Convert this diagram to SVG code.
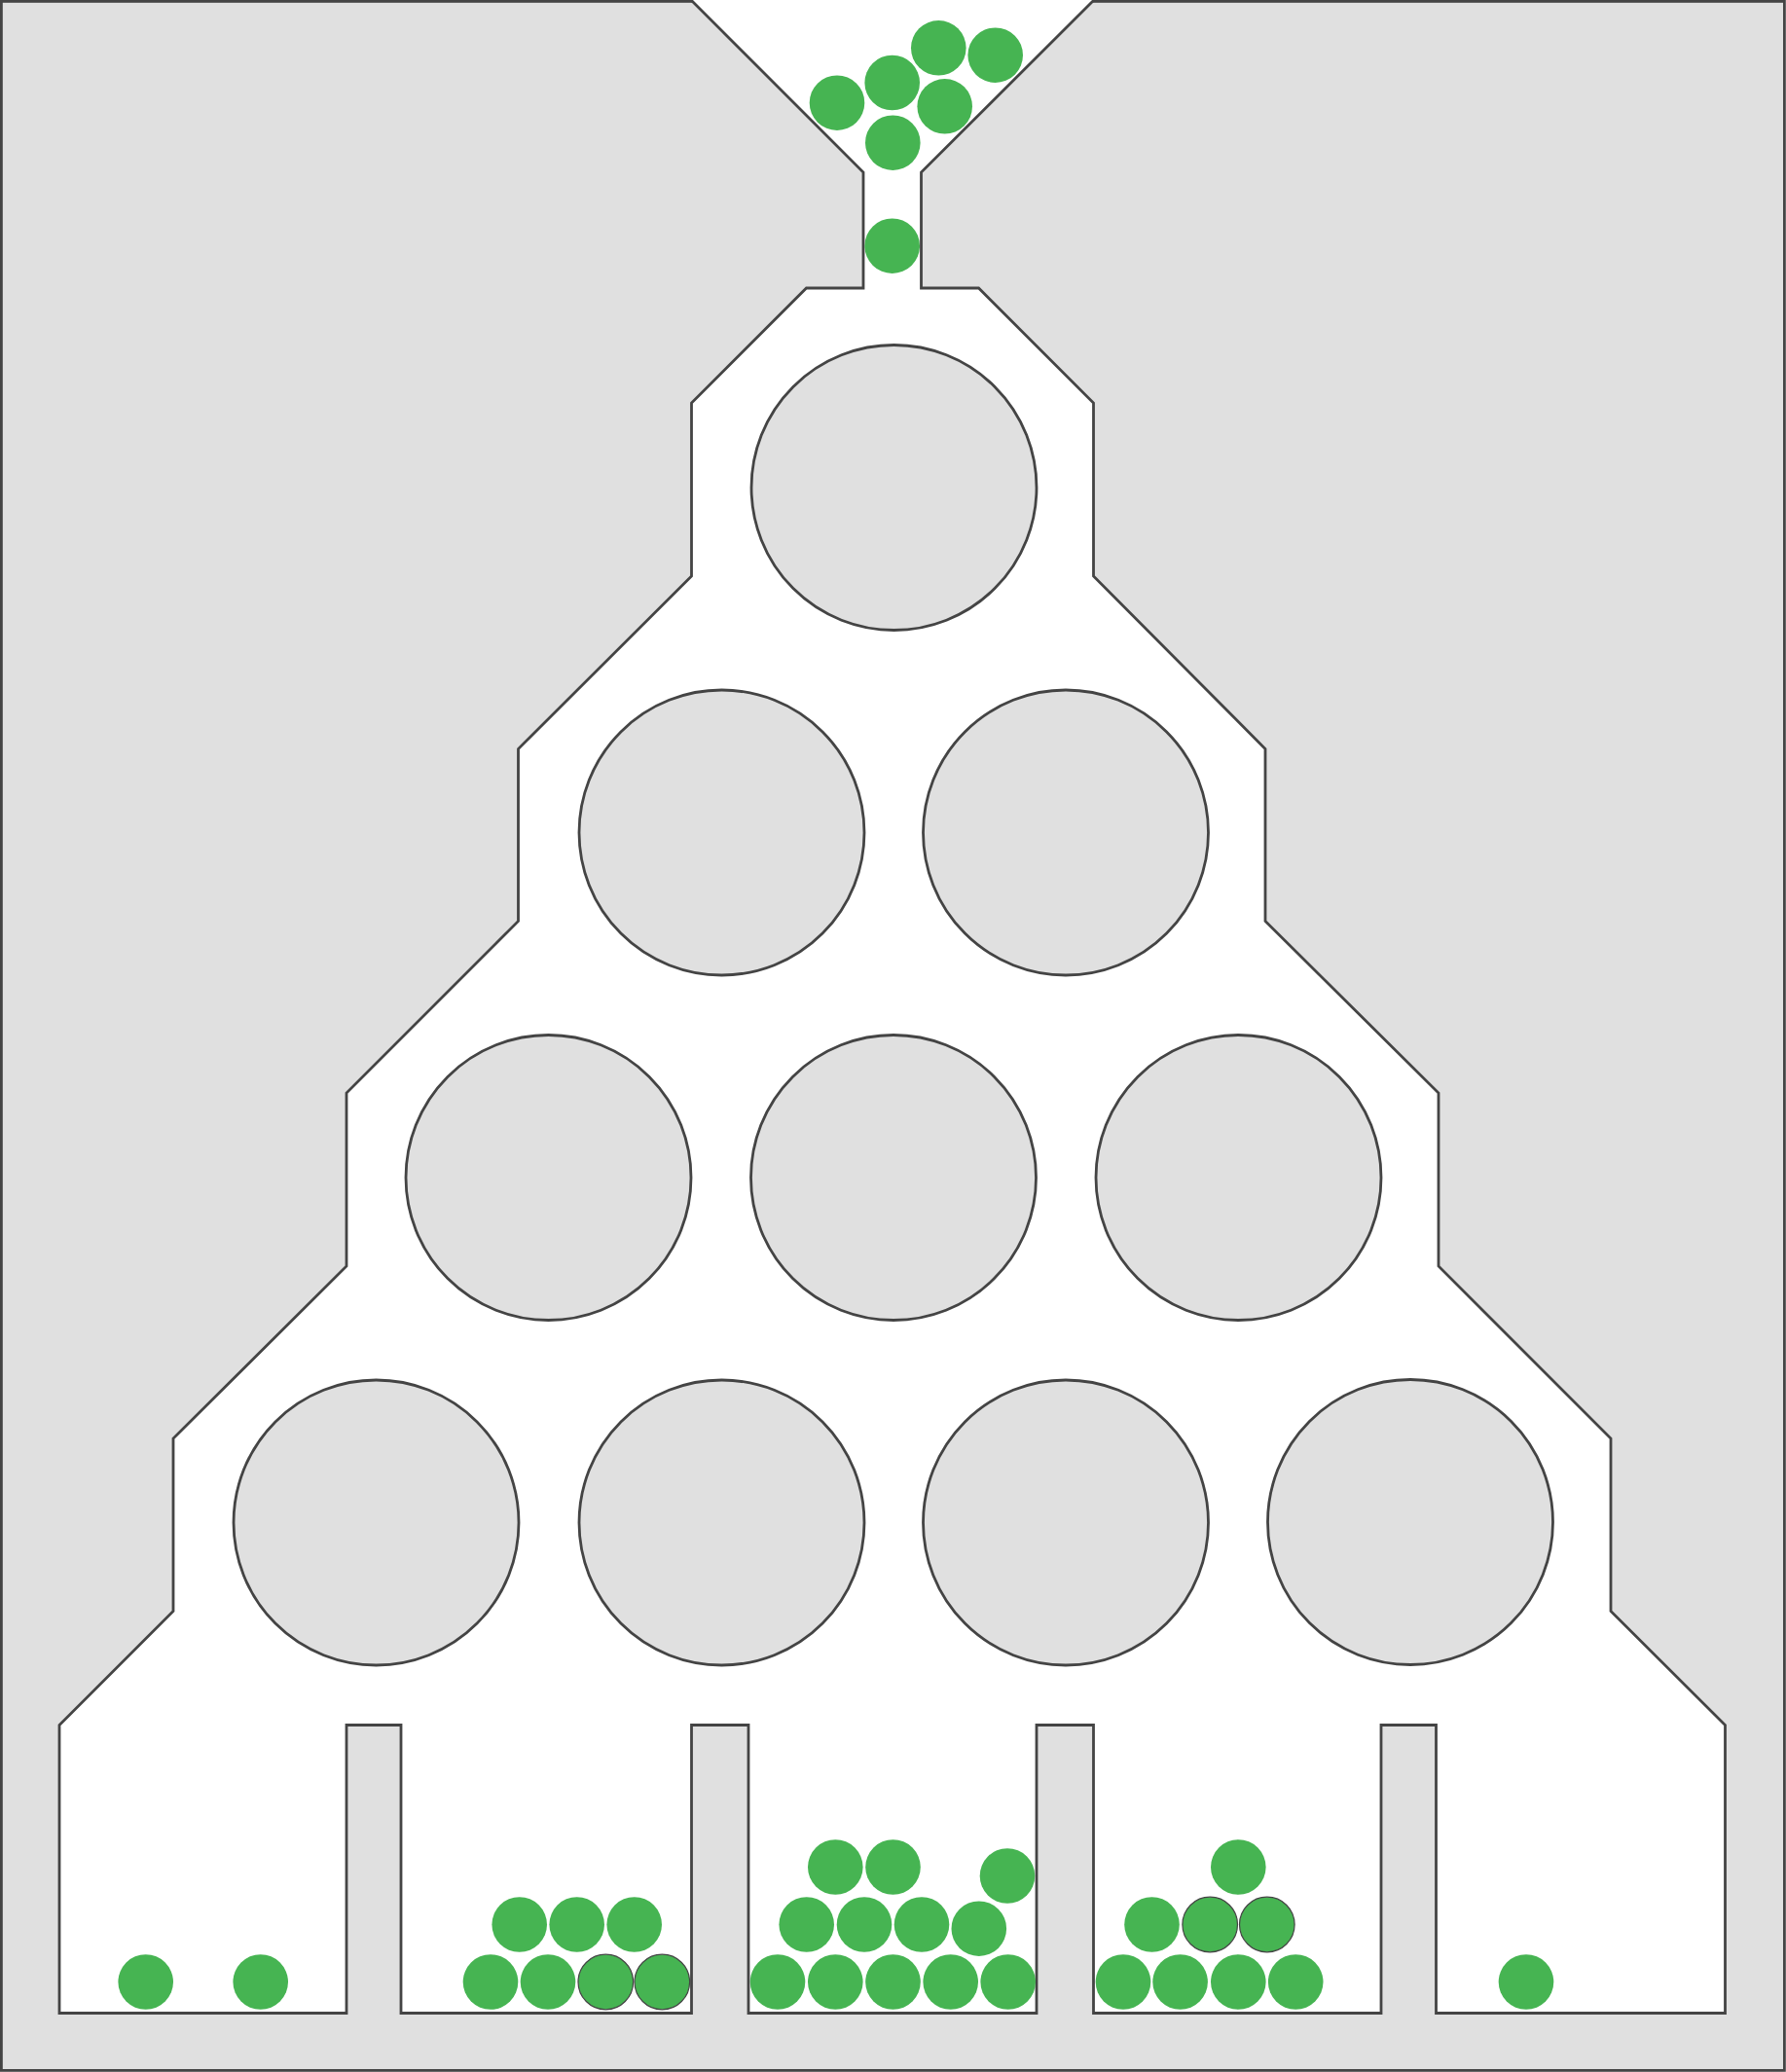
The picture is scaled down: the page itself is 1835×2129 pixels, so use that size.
<svg xmlns="http://www.w3.org/2000/svg" width="1835" height="2129" viewBox="0 0 1835 2129">
<style>
.wall{fill:#e0e0e0;stroke:#444;stroke-width:2.8}
.chamber{fill:#fff;stroke:#444;stroke-width:2.8;stroke-linejoin:miter}
.peg{fill:#e0e0e0;stroke:#444;stroke-width:2.8}
.ball{fill:#46b452}
.ball.o{stroke:#444;stroke-width:1.2}
</style>
<rect id="frame" class="wall" x="1.4" y="1.4" width="1832" height="2126"/>
<polygon id="chamber" class="chamber" points="706,-4 887,177 887,296 828.5,296 710.5,414 710.5,592 532.5,769.5 532.5,946.5 356,1123 356,1301 178,1478 178,1655.5 61,1772.5 61,2068.5 356,2068.5 356,1772.5 412,1772.5 412,2068.5 710.5,2068.5 710.5,1772.5 769,1772.5 769,2068.5 1065,2068.5 1065,1772.5 1123.5,1772.5 1123.5,2068.5 1419,2068.5 1419,1772.5 1475.5,1772.5 1475.5,2068.5 1772.5,2068.5 1772.5,1772.5 1655,1655.5 1655,1478 1478,1301 1478,1123 1300,946.5 1300,769.5 1123.5,592 1123.5,414 1005.5,296 946.5,296 946.5,177 1128,-4"/>
<g id="pegs">
<circle id="peg-1-1" class="peg" cx="918.5" cy="501" r="146.5"/>
<circle id="peg-2-1" class="peg" cx="741.5" cy="855.5" r="146.5"/>
<circle id="peg-2-2" class="peg" cx="1095" cy="855.5" r="146.5"/>
<circle id="peg-3-1" class="peg" cx="563.5" cy="1210" r="146.5"/>
<circle id="peg-3-2" class="peg" cx="918" cy="1210" r="146.5"/>
<circle id="peg-3-3" class="peg" cx="1272.5" cy="1210" r="146.5"/>
<circle id="peg-4-1" class="peg" cx="386.5" cy="1564.5" r="146.5"/>
<circle id="peg-4-2" class="peg" cx="741.5" cy="1564.5" r="146.5"/>
<circle id="peg-4-3" class="peg" cx="1095" cy="1564.5" r="146.5"/>
<circle id="peg-4-4" class="peg" cx="1449" cy="1564" r="146.5"/>
</g>
<g id="balls-funnel">
<circle class="ball" cx="860" cy="105.7" r="28.3"/>
<circle class="ball" cx="916.7" cy="85" r="28.3"/>
<circle class="ball" cx="964.3" cy="49.3" r="28.3"/>
<circle class="ball" cx="1022.7" cy="56.7" r="28.3"/>
<circle class="ball" cx="970.7" cy="109.3" r="28.3"/>
<circle class="ball" cx="917.3" cy="146.7" r="28.3"/>
<circle class="ball" cx="916.7" cy="252.7" r="28.3"/>
</g>
<g id="bin-1">
<circle class="ball" cx="149.7" cy="2036.5" r="28.3"/>
<circle class="ball" cx="267.7" cy="2036.5" r="28.3"/>
</g>
<g id="bin-2">
<circle class="ball" cx="504" cy="2036.5" r="28.3"/>
<circle class="ball" cx="563" cy="2036.5" r="28.3"/>
<circle class="ball o" cx="622.3" cy="2036.5" r="28.3"/>
<circle class="ball o" cx="680.3" cy="2036.5" r="28.3"/>
<circle class="ball" cx="533.7" cy="1977.5" r="28.3"/>
<circle class="ball" cx="592.7" cy="1977.5" r="28.3"/>
<circle class="ball" cx="651.7" cy="1977.5" r="28.3"/>
</g>
<g id="bin-3">
<circle class="ball" cx="799" cy="2036.5" r="28.3"/>
<circle class="ball" cx="858.3" cy="2036.5" r="28.3"/>
<circle class="ball" cx="917.5" cy="2036.5" r="28.3"/>
<circle class="ball" cx="976.7" cy="2036.5" r="28.3"/>
<circle class="ball" cx="1035.7" cy="2036.5" r="28.3"/>
<circle class="ball" cx="828.7" cy="1977.5" r="28.3"/>
<circle class="ball" cx="888" cy="1977.5" r="28.3"/>
<circle class="ball" cx="947" cy="1977.5" r="28.3"/>
<circle class="ball" cx="1005.8" cy="1981.7" r="28.3"/>
<circle class="ball" cx="858.3" cy="1918.5" r="28.3"/>
<circle class="ball" cx="917.5" cy="1918.5" r="28.3"/>
<circle class="ball" cx="1035" cy="1927.5" r="28.3"/>
</g>
<g id="bin-4">
<circle class="ball" cx="1154" cy="2036.5" r="28.3"/>
<circle class="ball" cx="1212.6" cy="2036.5" r="28.3"/>
<circle class="ball" cx="1272.3" cy="2036.5" r="28.3"/>
<circle class="ball" cx="1331.2" cy="2036.5" r="28.3"/>
<circle class="ball" cx="1183.5" cy="1977.5" r="28.3"/>
<circle class="ball o" cx="1243.2" cy="1977.5" r="28.3"/>
<circle class="ball o" cx="1301.8" cy="1977.5" r="28.3"/>
<circle class="ball" cx="1272.3" cy="1918.5" r="28.3"/>
</g>
<g id="bin-5">
<circle class="ball" cx="1568" cy="2036.5" r="28.3"/>
</g>
</svg>
